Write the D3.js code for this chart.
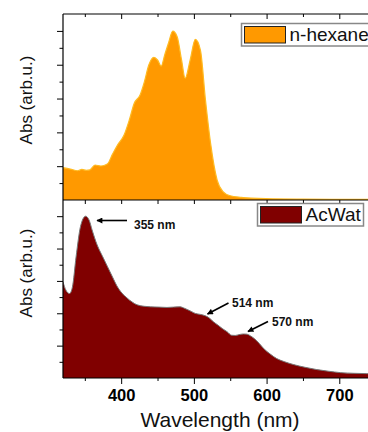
<!DOCTYPE html>
<html>
<head>
<meta charset="utf-8">
<script src="https://cdn.jsdelivr.net/npm/d3@7/dist/d3.min.js"></script>
<style>
  html, body { margin: 0; padding: 0; background: #fff; }
  svg { display: block; font-family: "Liberation Sans", Arial, sans-serif; }
</style>
</head>
<body>
<svg id="chart" width="368" height="432"></svg>
<script>
// ---- data ----
const hexWl = [320, 330, 340, 346, 352, 357, 364, 372, 381, 388, 395, 404, 411, 418, 426, 432, 438, 445, 450, 455, 460, 465, 471, 477, 483, 488, 495, 502, 509, 516, 523, 532, 540, 550, 565, 600, 650, 700, 800];
const hexAbs = [0.191, 0.183, 0.173, 0.181, 0.176, 0.178, 0.207, 0.201, 0.213, 0.27, 0.325, 0.384, 0.47, 0.572, 0.621, 0.70, 0.798, 0.844, 0.828, 0.792, 0.86, 0.927, 0.999, 0.966, 0.83, 0.72, 0.83, 0.950, 0.887, 0.59, 0.335, 0.118, 0.05, 0.025, 0.016, 0.008, 0.005, 0.004, 0.003];

const acWl = [320, 324, 329, 333, 338, 344, 351, 356, 360, 367, 374, 381, 388, 394, 401, 408, 415, 422, 432, 440, 452, 463, 472, 481, 486, 491, 497, 502, 509, 516, 522, 527, 533, 539, 546, 552, 557, 562, 568, 573, 578, 583, 590, 596, 605, 614, 625, 637, 653, 669, 685, 702, 720, 738, 770, 800];
const acAbs = [0.594, 0.543, 0.522, 0.563, 0.749, 0.935, 1.0, 0.975, 0.915, 0.822, 0.755, 0.69, 0.625, 0.57, 0.525, 0.495, 0.47, 0.452, 0.443, 0.44, 0.438, 0.436, 0.438, 0.44, 0.433, 0.423, 0.41, 0.399, 0.393, 0.384, 0.368, 0.347, 0.327, 0.306, 0.285, 0.264, 0.263, 0.268, 0.272, 0.271, 0.26, 0.244, 0.213, 0.182, 0.148, 0.120, 0.10, 0.083, 0.066, 0.052, 0.042, 0.033, 0.029, 0.027, 0.023, 0.02];

const majorX = [400, 500, 600, 700, 800];
const minorX = [350, 450, 550, 650, 750];
const majorY = [0.2, 0.4, 0.6, 0.8, 1.0];
const minorY = [0.1, 0.3, 0.5, 0.7, 0.9];

const seriesNames = ["n-hexane", "AcWat"];
const peakLabels = ["355 nm", "514 nm", "570 nm"];
const xTitle = "Wavelength (nm)";
const yTitle = "Abs (arb.u.)";

// ---- layout ----
const svg = d3.select("#chart");
const left = 63, right = 412;
const topY0 = 14, topY1 = 200, botY0 = 200, botY1 = 378;

const x = d3.scaleLinear().domain([320, 800]).range([left, right]);
const yTop = d3.scaleLinear().domain([0, 1.1]).range([topY1, topY0]);
const yBot = d3.scaleLinear().domain([0, 1.1]).range([botY1, botY0]);

svg.append("defs").append("clipPath").attr("id", "clip")
  .append("rect").attr("x", left).attr("y", 0).attr("width", right - left).attr("height", 432);

const g = svg.append("g").attr("clip-path", "url(#clip)");

const hexData = hexWl.map((w, i) => [w, hexAbs[i]]);
const acData = acWl.map((w, i) => [w, acAbs[i]]);

const areaTop = d3.area().curve(d3.curveMonotoneX)
  .x(d => x(d[0])).y0(yTop(0)).y1(d => yTop(d[1]));
const lineTop = d3.line().curve(d3.curveMonotoneX)
  .x(d => x(d[0])).y(d => yTop(d[1]));
const areaBot = d3.area().curve(d3.curveMonotoneX)
  .x(d => x(d[0])).y0(yBot(0)).y1(d => yBot(d[1]));
const lineBot = d3.line().curve(d3.curveMonotoneX)
  .x(d => x(d[0])).y(d => yBot(d[1]));

g.append("path").datum(hexData).attr("d", areaTop).attr("fill", "#FF9900");
g.append("path").datum(hexData).attr("d", lineTop).attr("fill", "none")
  .attr("stroke", "#FFBB22").attr("stroke-width", 1.2);
g.append("path").datum(acData).attr("d", areaBot).attr("fill", "#800000");
g.append("path").datum(acData).attr("d", lineBot).attr("fill", "none")
  .attr("stroke", "#777").attr("stroke-width", 1);

// ---- axes ----
function styleAxis(sel) {
  sel.select(".domain").remove();
  sel.selectAll("line").attr("stroke", "#000").attr("stroke-width", 1);
}
const ax = svg.append("g").attr("clip-path", "url(#clip)");

// top edge of top panel: ticks inward
ax.append("g").attr("transform", `translate(0,${topY0})`)
  .call(d3.axisBottom(x).tickValues(majorX).tickSize(5).tickFormat(""))
  .call(styleAxis);
ax.append("g").attr("transform", `translate(0,${topY0})`)
  .call(d3.axisBottom(x).tickValues(minorX).tickSize(3).tickFormat(""))
  .call(styleAxis);
// middle edge: ticks down into bottom panel
ax.append("g").attr("transform", `translate(0,${botY0})`)
  .call(d3.axisBottom(x).tickValues(majorX.concat(minorX)).tickSize(4).tickFormat(""))
  .call(styleAxis);
// bottom axis: outward ticks with labels
const bx = svg.append("g").attr("transform", `translate(0,${botY1})`)
  .call(d3.axisBottom(x).tickValues(majorX.filter(v => v < 750)).tickSize(6).tickPadding(5).tickFormat(d3.format("d")));
bx.select(".domain").remove();
bx.selectAll("line").attr("stroke", "#000");
bx.selectAll("text").attr("fill", "#000").attr("font-size", 16.5).attr("font-weight", "bold")
  .attr("font-family", "Liberation Sans, Arial, sans-serif");
svg.append("g").attr("transform", `translate(0,${botY1})`)
  .call(d3.axisBottom(x).tickValues(minorX).tickSize(3).tickFormat(""))
  .call(styleAxis);

// horizontal frame lines
svg.append("line").attr("x1", left).attr("x2", 368).attr("y1", topY0).attr("y2", topY0).attr("stroke", "#000").attr("stroke-width", 1.2);
svg.append("line").attr("x1", left).attr("x2", 368).attr("y1", topY1).attr("y2", topY1).attr("stroke", "#000").attr("stroke-width", 1.2);
svg.append("line").attr("x1", left).attr("x2", 368).attr("y1", botY1).attr("y2", botY1).attr("stroke", "#000").attr("stroke-width", 1.2);

// left axes
[yTop, yBot].forEach(ys => {
  svg.append("g").attr("transform", `translate(${left},0)`)
    .call(d3.axisLeft(ys).tickValues(majorY).tickSize(6).tickFormat(""))
    .call(styleAxis);
  svg.append("g").attr("transform", `translate(${left},0)`)
    .call(d3.axisLeft(ys).tickValues(minorY).tickSize(3.5).tickFormat(""))
    .call(styleAxis);
});
svg.append("line").attr("x1", left).attr("x2", left).attr("y1", topY0).attr("y2", botY1)
  .attr("stroke", "#000").attr("stroke-width", 1.2);

// ---- titles ----
svg.append("text").attr("transform", `translate(32,100) rotate(-90)`)
  .attr("text-anchor", "middle").attr("font-size", 17).attr("fill", "#111").text(yTitle);
svg.append("text").attr("transform", `translate(32,273) rotate(-90)`)
  .attr("text-anchor", "middle").attr("font-size", 17).attr("fill", "#111").text(yTitle);
svg.append("text").attr("x", 220).attr("y", 427).attr("text-anchor", "middle")
  .attr("font-size", 21).attr("fill", "#111").text(xTitle);

// ---- legends ----
function legend(x0, y0, w, h, color, label) {
  svg.append("rect").attr("x", x0).attr("y", y0).attr("width", w).attr("height", h)
    .attr("fill", "#fff").attr("stroke", "#888").attr("stroke-width", 1.5);
  svg.append("rect").attr("x", x0 + 3).attr("y", y0 + 3).attr("width", 41).attr("height", h - 6)
    .attr("fill", color).attr("stroke", "#222").attr("stroke-width", 1);
  svg.append("text").attr("x", x0 + 48).attr("y", y0 + h - 5).attr("font-size", 19)
    .attr("fill", "#111").text(label);
}
legend(241.5, 23.5, 140, 22.5, "#FF9900", seriesNames[0]);
legend(257.5, 203.5, 106, 22.5, "#800000", seriesNames[1]);

// ---- annotations ----
svg.append("defs").append("marker").attr("id", "arrow").attr("viewBox", "0 0 10 10")
  .attr("refX", 9).attr("refY", 5).attr("markerWidth", 7).attr("markerHeight", 6)
  .attr("orient", "auto").attr("markerUnits", "userSpaceOnUse")
  .append("path").attr("d", "M0,0 L10,5 L0,10 Z").attr("fill", "#000");

const ann = [
  { tx: 134, ty: 229, ax1: 127, ay1: 220.5, dx: 30, dy: 0 },
  { tx: 232, ty: 306.5, ax1: 228.5, ay1: 303, dx: 21, dy: -11 },
  { tx: 272, ty: 326, ax1: 268, ay1: 321.5, dx: 20, dy: -10 }
];
ann.forEach((a, i) => {
  svg.append("line").attr("x1", a.ax1).attr("y1", a.ay1)
    .attr("x2", a.ax1 - a.dx).attr("y2", a.ay1 - a.dy)
    .attr("stroke", "#000").attr("stroke-width", 1.6).attr("marker-end", "url(#arrow)");
  svg.append("text").attr("x", a.tx).attr("y", a.ty).attr("font-size", 12)
    .attr("font-weight", "bold").attr("fill", "#111").text(peakLabels[i]);
});
</script>
</body>
</html>
